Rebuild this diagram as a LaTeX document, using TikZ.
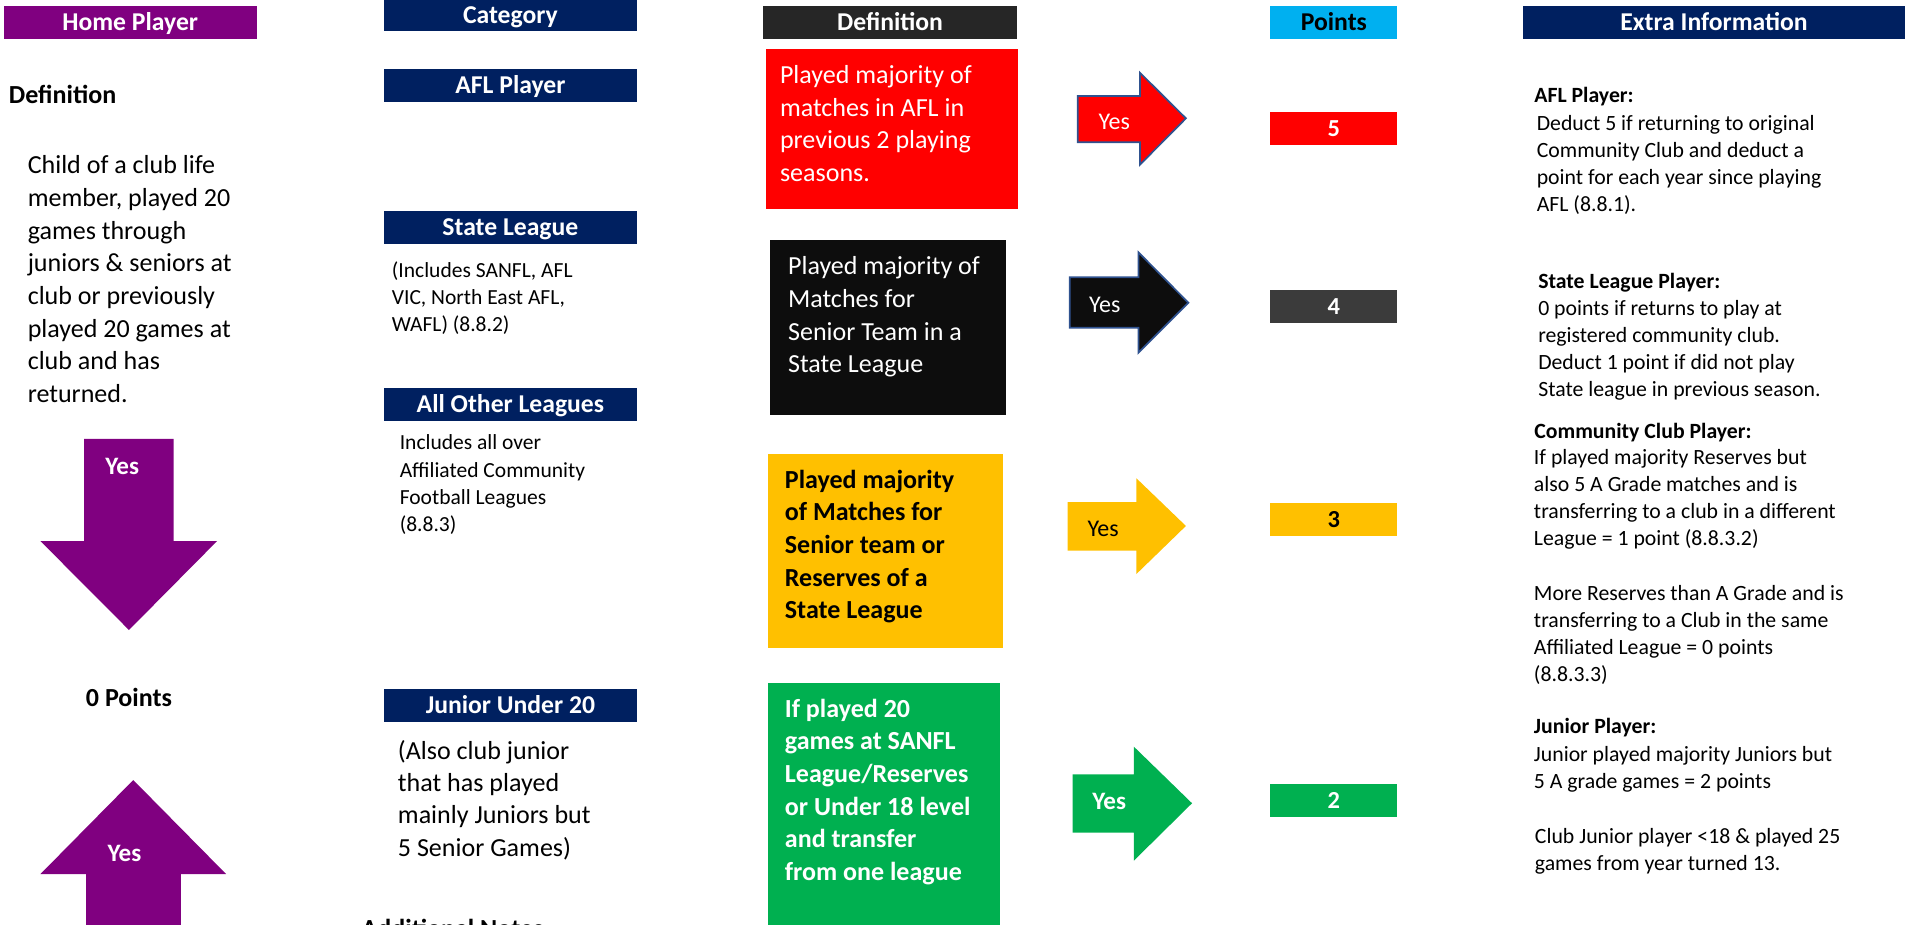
\documentclass[tikz,border=0pt]{standalone}
\usepackage{fontspec}
\setmainfont{Carlito}
\definecolor{hpurple}{HTML}{800080}
\definecolor{navy}{HTML}{002060}
\definecolor{defgray}{HTML}{262626}
\definecolor{ptcyan}{HTML}{00B0F0}
\definecolor{cred}{HTML}{FF0000}
\definecolor{cblack}{HTML}{0D0D0D}
\definecolor{cgray}{HTML}{3B3B3B}
\definecolor{cyellow}{HTML}{FFC000}
\definecolor{cgreen}{HTML}{00B050}
\definecolor{aline}{HTML}{2F528F}
\newcommand\blk[1]{\vtop{\halign{##\hfil\cr#1\crcr}}}
\begin{document}
\begin{tikzpicture}[x=1pt,y=-1pt,
  hdr/.style={anchor=north west, inner sep=0pt, outer sep=0pt, text=white,
    font=\bfseries\fontsize{21}{25}\selectfont, text height=13.6pt, text depth=0pt},
  ptbox/.style={anchor=north west, inner sep=0pt, outer sep=0pt, text=white,
    minimum width=104pt, minimum height=27pt,
    font=\bfseries\fontsize{20}{24}\selectfont, text height=13pt, text depth=0pt},
  txt/.style={anchor=base west, inner sep=0pt, outer sep=0pt},
  big/.style={font=\fontsize{21.3}{26.7}\selectfont},
  bigb/.style={font=\bfseries\fontsize{21.3}{26.7}\selectfont},
  small/.style={font=\fontsize{17.6}{22.3}\selectfont},
  extra/.style={font=\fontsize{17.8}{22}\selectfont},
  extrab/.style={font=\bfseries\fontsize{17.8}{22}\selectfont},
  yes/.style={anchor=base, inner sep=0pt, outer sep=0pt, font=\fontsize{19.6}{24}\selectfont},
  yesb/.style={anchor=base, inner sep=0pt, outer sep=0pt, font=\bfseries\fontsize{20.5}{24}\selectfont},
  rarrow/.style={line width=1.4pt, draw=aline, line join=miter}
]
\useasboundingbox (0,0) rectangle (1568,756);
\clip (0,0) rectangle (1568,756);

% ---------- column headers ----------
\node[hdr, fill=hpurple, minimum width=207pt, minimum height=27pt] (hp) at (3,4.9) {Home Player};
\node[hdr, fill=navy, minimum width=207pt, minimum height=25pt] (cat) at (314,0) {Category};
\node[hdr, fill=defgray, minimum width=208pt, minimum height=27pt] (defh) at (624,4.9) {Definition};
\node[hdr, fill=ptcyan, text=black, minimum width=104pt, minimum height=27pt] (pth) at (1039,4.9) {Points};
\node[hdr, fill=navy, minimum width=312pt, minimum height=27pt] (exh) at (1246,4.9) {Extra Information};

% ---------- category headers ----------
\node[hdr, fill=navy, minimum width=207pt, minimum height=26.8pt] (afl) at (314,56.4) {AFL Player};
\node[hdr, fill=navy, minimum width=207pt, minimum height=26.7pt] (sl) at (314,172.6) {State League};
\node[hdr, fill=navy, minimum width=207pt, minimum height=26.4pt] (aol) at (314,317.6) {All Other Leagues};
\node[hdr, fill=navy, minimum width=207pt, minimum height=26.5pt] (ju) at (314,563.8) {Junior Under 20};

% ---------- left column ----------
\node[txt, bigb] (defl) at (7.3,84.6) {Definition};
\node[txt, big] (hpdef) at (22.7,142.3) {\blk{Child of a club life\cr member, played 20\cr games through\cr juniors \& seniors at\cr club or previously\cr played 20 games at\cr club and has\cr returned.}};
\fill[hpurple] (68.8,359) -- (142,359) -- (142,442.5) -- (177.6,442.5) -- (105.5,515.3) -- (33,442.5) -- (68.8,442.5) -- cycle;
\node[yesb, text=white] (yesdown) at (100,388.5) {Yes};
\node[anchor=base, inner sep=0pt, bigb] (zero) at (105.5,578) {0 Points};
\fill[hpurple] (70.5,760) -- (70.5,715) -- (33,715) -- (109,638) -- (185,715) -- (148,715) -- (148,760) -- cycle;
\node[yesb, text=white] (yesup) at (101.8,705) {Yes};

% ---------- category texts ----------
\node[txt, small] (sltxt) at (320.6,226.8) {\blk{(Includes SANFL, AFL\cr VIC, North East AFL,\cr WAFL) (8.8.2)}};
\node[txt, small] (aoltxt) at (327,368) {\blk{Includes all over\cr Affiliated Community\cr Football Leagues\cr (8.8.3)}};
\node[txt, font=\fontsize{21.3}{26.4}\selectfont] (jutxt) at (325.5,621) {\blk{(Also club junior\cr that has played\cr mainly Juniors but\cr 5 Senior Games)}};
\node[txt, bigb] (addn) at (295.8,767) {Additional Notes};

% ---------- definition boxes ----------
\fill[cred] (626.5,40) rectangle (832.6,170.7);
\node[txt, big, text=white] (d5) at (638,68.2) {\blk{Played majority of\cr matches in AFL in\cr previous 2 playing\cr seasons.}};
\fill[cblack] (630,196) rectangle (823,339.5);
\node[txt, big, text=white] (d4) at (644.6,224.9) {\blk{Played majority of\cr Matches for\cr Senior Team in a\cr State League}};
\fill[cyellow] (628,371) rectangle (820,530);
\node[txt, bigb, text=black] (d3) at (642,399.4) {\blk{Played majority\cr of Matches for\cr Senior team or\cr Reserves of a\cr State League}};
\fill[cgreen] (628,559) rectangle (818,760);
\node[txt, bigb, text=white] (d2) at (642,586.7) {\blk{If played 20\cr games at SANFL\cr League/Reserves\cr or Under 18 level\cr and transfer\cr from one league}};

% ---------- Yes arrows ----------
\path[fill=cred, rarrow] (881.6,78.5) -- (932.4,78.5) -- (932.4,59.5) -- (970,96.8) -- (932.4,134.7) -- (932.4,116.4) -- (881.6,116.4) -- cycle;
\node[yes, text=white] (y5) at (911.4,106) {Yes};
\path[fill=cblack, rarrow] (874.9,226.8) -- (931.2,226.8) -- (931.2,206.4) -- (972,247.6) -- (931.2,288.5) -- (931.2,268) -- (874.9,268) -- cycle;
\node[yes, text=white] (y4) at (903.7,256) {Yes};
\fill[cyellow] (873.2,410.6) -- (929.5,410.6) -- (929.5,391.2) -- (970,430.2) -- (929.5,469.5) -- (929.5,450.4) -- (873.2,450.4) -- cycle;
\node[yes, text=black] (y3) at (902.3,439) {Yes};
\fill[cgreen] (877.4,633.3) -- (927.4,633.3) -- (927.4,610.7) -- (975,657) -- (927.4,704) -- (927.4,681.1) -- (877.4,681.1) -- cycle;
\node[yesb, text=white] (y2) at (907.3,662.5) {Yes};

% ---------- points ----------
\node[ptbox, fill=cred] (p5) at (1039,91.6) {5};
\node[ptbox, fill=cgray] (p4) at (1039,237) {4};
\node[ptbox, fill=cyellow, text=black] (p3) at (1039,411.5) {3};
\node[ptbox, fill=cgreen] (p2) at (1039,641) {2};

% ---------- extra information ----------
\node[txt, extrab] (e1h) at (1255,84) {AFL Player:};
\node[txt, extra] (e1) at (1257,106.9) {\blk{Deduct 5 if returning to original\cr Community Club and deduct a\cr point for each year since playing\cr AFL (8.8.1).}};
\node[txt, extrab] (e2h) at (1258.2,235.8) {State League Player:};
\node[txt, extra] (e2) at (1258.2,258.2) {\blk{0 points if returns to play at\cr registered community club.\cr Deduct 1 point if did not play\cr State league in previous season.}};
\node[txt, extrab] (e3h) at (1255,358.5) {Community Club Player:};
\node[txt, extra] (e3) at (1254.7,380.3) {\blk{If played majority Reserves but\cr also 5 A Grade matches and is\cr transferring to a club in a different\cr League = 1 point (8.8.3.2)}};
\node[txt, extra] (e4) at (1254.7,491.3) {\blk{More Reserves than A Grade and is\cr transferring to a Club in the same\cr Affiliated League = 0 points\cr (8.8.3.3)}};
\node[txt, extrab] (e5h) at (1254.7,599.8) {Junior Player:};
\node[txt, extra] (e5) at (1254.7,623) {\blk{Junior played majority Juniors but\cr 5 A grade games = 2 points}};
\node[txt, extra] (e6) at (1255.5,689.8) {\blk{Club Junior player <18 \& played 25\cr games from year turned 13.}};
\end{tikzpicture}
\end{document}
